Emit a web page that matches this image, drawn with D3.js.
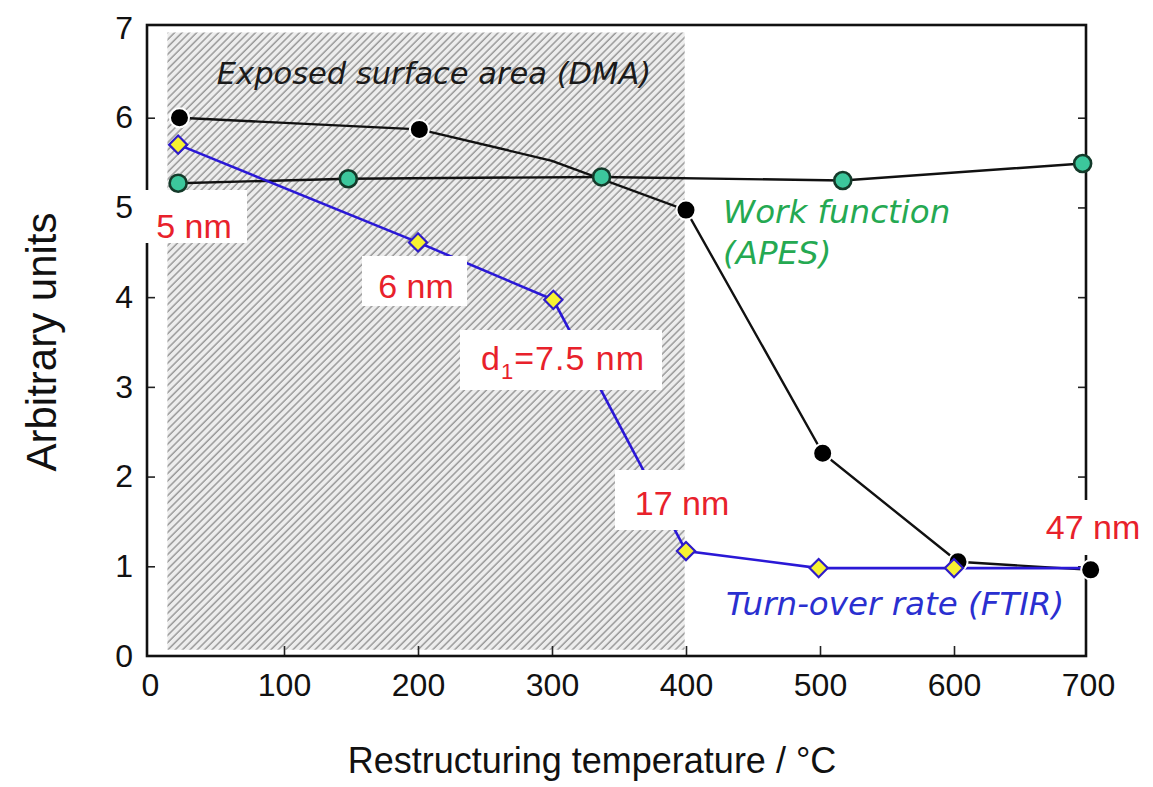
<!DOCTYPE html>
<html>
<head>
<meta charset="utf-8">
<script src="https://cdn.jsdelivr.net/npm/d3@7"></script>
<style>
  body { margin: 0; background: #fff; }
  svg { display: block; }
</style>
</head>
<body>
<svg id="chart" width="1153" height="787"></svg>
<script>
// values
const xTicks = [0, 100, 200, 300, 400, 500, 600, 700]
const yTicks = [0, 1, 2, 3, 4, 5, 6, 7]

// Exposed surface area (DMA) - black dots
const dmaT = [22, 201, 300, 400, 502, 603, 702]
const dmaV = [6.0, 5.87, 5.52, 4.97, 2.26, 1.05, 0.96]
const dmaMark = [true, true, false, true, true, true, true]

// Work function (APES) - green dots
const apesT = [21, 148, 337, 517, 696]
const apesV = [5.27, 5.32, 5.34, 5.30, 5.49]

// Turn-over rate (FTIR) - yellow diamonds
const ftirT = [21, 200, 301, 400, 499, 600, 700]
const ftirV = [5.70, 4.61, 3.97, 1.17, 0.98, 0.98, 0.98]
const ftirMark = [true, true, true, true, true, true, false]

// particle size notes
const sizeLabels = ["5 nm", "6 nm", "d1=7.5 nm", "17 nm", "47 nm"]

const svg = d3.select("#chart")

const x = d3.scaleLinear().domain([0, 700]).range([150, 1088])
const y = d3.scaleLinear().domain([0, 7]).range([656, 28])

const frameL = 147, frameR = 1086, frameT = 25, frameB = 656

// hatch pattern for the shaded temperature range
const defs = svg.append("defs")
const pat = defs.append("pattern")
  .attr("id", "hatch")
  .attr("patternUnits", "userSpaceOnUse")
  .attr("width", 5.2).attr("height", 5.2)
  .attr("patternTransform", "rotate(45)")
pat.append("rect").attr("width", 5.2).attr("height", 5.2).attr("fill", "#ededed")
pat.append("line").attr("x1", 1).attr("y1", 0).attr("x2", 1).attr("y2", 5.2)
  .attr("stroke", "#999").attr("stroke-width", 1.5)

svg.append("rect")
  .attr("x", x(13)).attr("y", y(6.95))
  .attr("width", x(399) - x(13))
  .attr("height", y(0.07) - y(6.95))
  .attr("fill", "url(#hatch)")

// axes, ticks pointing inwards
const font = "'Liberation Sans', Arial, sans-serif"

const gL = svg.append("g").attr("transform", `translate(${frameL},0)`)
  .call(d3.axisLeft(y).tickValues(yTicks).tickSize(-8).tickPadding(14).tickFormat(d3.format("d")))
const gR = svg.append("g").attr("transform", `translate(${frameR},0)`)
  .call(d3.axisRight(y).tickValues(yTicks.slice(1, -1)).tickSize(-8).tickFormat(""))
const gB = svg.append("g").attr("transform", `translate(0,${frameB})`)
  .call(d3.axisBottom(x).tickValues(xTicks).tickSize(-10).tickPadding(17).tickFormat(d3.format("d")))

;[gL, gR, gB].forEach(g => {
  g.select(".domain").remove()
  g.selectAll(".tick line").attr("stroke", "#222").attr("stroke-width", 1.6)
  g.selectAll(".tick text").attr("font-family", font).attr("font-size", 32).attr("fill", "#111")
})
gB.selectAll(".tick").filter(d => d == 0 || d == 700).select("line").remove()
gL.selectAll(".tick").filter(d => d == 0 || d == 7).select("line").remove()

svg.append("rect")
  .attr("x", frameL).attr("y", frameT)
  .attr("width", frameR - frameL).attr("height", frameB - frameT)
  .attr("fill", "none").attr("stroke", "#111").attr("stroke-width", 2.6)

// axis titles
svg.append("text")
  .attr("transform", "translate(56,342) rotate(-90)")
  .attr("text-anchor", "middle")
  .attr("font-family", font).attr("font-size", 42).attr("fill", "#111")
  .text("Arbitrary units")

svg.append("text")
  .attr("x", 592).attr("y", 773)
  .attr("text-anchor", "middle")
  .attr("font-family", font).attr("font-size", 36).attr("fill", "#111")
  .text("Restructuring temperature / °C")

// lines
const line = d3.line().x(d => x(d[0])).y(d => y(d[1]))
const dma = dmaT.map((t, i) => [t, dmaV[i], dmaMark[i]])
const apes = apesT.map((t, i) => [t, apesV[i]])
const ftir = ftirT.map((t, i) => [t, ftirV[i], ftirMark[i]])

svg.append("path").datum(dma).attr("d", line)
  .attr("fill", "none").attr("stroke", "#111").attr("stroke-width", 2.4)
svg.append("path").datum(apes).attr("d", line)
  .attr("fill", "none").attr("stroke", "#111").attr("stroke-width", 2.4)
svg.append("path").datum(ftir).attr("d", line)
  .attr("fill", "none").attr("stroke", "#2a18d6").attr("stroke-width", 2.6)

// white boxes with red size labels
const boxes = [
  {x: 138, y: 190, w: 109, h: 53, tx: 194, ty: 238},
  {x: 362, y: 256, w: 105, h: 50, tx: 416, ty: 298},
  {x: 460, y: 330, w: 202, h: 60, tx: 563, ty: 370},
  {x: 615, y: 470, w: 130, h: 60, tx: 682, ty: 515},
  {x: 1035, y: 500, w: 115, h: 55, tx: 1093, ty: 539}
]
svg.selectAll(".lblbox").data(boxes).enter().append("rect")
  .attr("class", "lblbox")
  .attr("x", d => d.x).attr("y", d => d.y)
  .attr("width", d => d.w).attr("height", d => d.h)
  .attr("fill", "#fff")

const red = svg.selectAll(".size").data(boxes).enter().append("text")
  .attr("class", "size")
  .attr("x", d => d.tx).attr("y", d => d.ty)
  .attr("text-anchor", "middle")
  .attr("font-family", font).attr("font-size", 34).attr("fill", "#e8212b")
red.each(function(d, i) {
  const t = d3.select(this)
  const s = sizeLabels[i]
  if (s.startsWith("d1")) {
    t.attr("letter-spacing", 1)
    t.append("tspan").text("d")
    t.append("tspan").text("1").attr("font-size", 22).attr("dy", 9)
    t.append("tspan").text(s.slice(2)).attr("dy", -9)
  } else {
    t.text(s)
  }
})

// series captions
const ital = "'DejaVu Sans', Verdana, sans-serif"
svg.append("text").attr("x", 434).attr("y", 84).attr("text-anchor", "middle")
  .attr("font-family", ital).attr("font-style", "italic").attr("font-size", 30.5)
  .attr("fill", "#1a1a1a").text("Exposed surface area (DMA)")
svg.append("text").attr("x", 723).attr("y", 223)
  .attr("font-family", ital).attr("font-style", "italic").attr("font-size", 32.5)
  .attr("fill", "#25a952").text("Work function")
svg.append("text").attr("x", 723).attr("y", 264)
  .attr("font-family", ital).attr("font-style", "italic").attr("font-size", 32.5)
  .attr("fill", "#25a952").text("(APES)")
svg.append("text").attr("x", 726).attr("y", 615)
  .attr("font-family", ital).attr("font-style", "italic").attr("font-size", 32.5)
  .attr("fill", "#2a2fd0").text("Turn-over rate (FTIR)")

// markers
svg.selectAll(".dma").data(dma.filter(d => d[2])).enter().append("circle")
  .attr("class", "dma")
  .attr("cx", d => x(d[0])).attr("cy", d => y(d[1])).attr("r", 9.5)
  .attr("fill", "#000").attr("stroke", "#fff").attr("stroke-width", 2)

svg.selectAll(".apes").data(apes).enter().append("circle")
  .attr("class", "apes")
  .attr("cx", d => x(d[0])).attr("cy", d => y(d[1])).attr("r", 8.5)
  .attr("fill", "#3cc79c").attr("stroke", "#143a2a").attr("stroke-width", 2.6)

const diamond = d3.symbol().type(d3.symbolDiamond2).size(210)
svg.selectAll(".ftir").data(ftir.filter(d => d[2])).enter().append("path")
  .attr("class", "ftir")
  .attr("transform", d => `translate(${x(d[0])},${y(d[1])})`)
  .attr("d", diamond)
  .attr("fill", "#f6f232").attr("stroke", "#2f1cc8").attr("stroke-width", 2.2)
</script>
</body>
</html>
